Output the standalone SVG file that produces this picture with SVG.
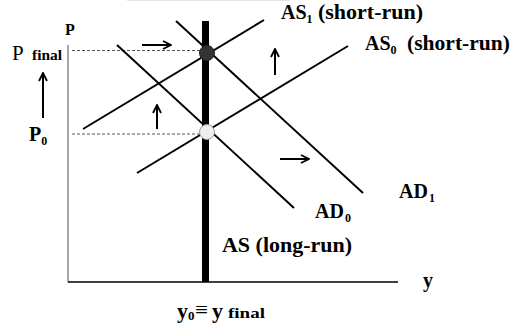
<svg xmlns="http://www.w3.org/2000/svg" width="520" height="328" viewBox="0 0 520 328">
<defs>
<marker id="ah" viewBox="0 0 10 10" refX="9" refY="5" markerWidth="5" markerHeight="5" orient="auto" markerUnits="strokeWidth">
<polyline points="1,1 9,5 1,9" fill="none" stroke="#000" stroke-width="1.8"/>
</marker>
</defs>
<style>
.t{font-family:"Liberation Serif","Times New Roman",serif;fill:#000}
.b{font-weight:bold}
.c{stroke:#000;stroke-width:2;fill:none}
.a{stroke:#000;stroke-width:2;fill:none;marker-end:url(#ah)}
.d{stroke:#555;stroke-width:1;stroke-dasharray:3,2}
</style>
<rect width="520" height="328" fill="#fff"/>
<line x1="127" y1="0.5" x2="290" y2="0.5" stroke="#e4e4e4" stroke-width="1"/>
<g id="axes">
<line x1="68" y1="45" x2="68" y2="282" stroke="#888" stroke-width="1.5"/>
<line x1="68" y1="282" x2="398" y2="282" stroke="#000" stroke-width="1.5"/>
</g>
<g id="guides">
<line class="d" x1="72" y1="50.5" x2="205" y2="50.5"/>
<line class="d" x1="72" y1="134" x2="205" y2="134"/>
</g>
<g id="curves">
<line id="as1" class="c" x1="83" y1="129" x2="264" y2="20"/>
<line id="as0" class="c" x1="137" y1="173" x2="348" y2="46"/>
<line id="ad0" class="c" x1="117" y1="45" x2="294" y2="208"/>
<line id="ad1" class="c" x1="176" y1="21" x2="363" y2="193"/>
<line id="aslr" x1="205.5" y1="21" x2="205.5" y2="282" stroke="#000" stroke-width="7"/>
</g>
<g id="connectors">
<line class="a" x1="142" y1="45" x2="171" y2="45"/>
<line class="a" x1="157" y1="129" x2="157" y2="105"/>
<line class="a" x1="275" y1="75" x2="275" y2="49"/>
<line class="a" x1="280" y1="159" x2="309" y2="159"/>
<line class="a" x1="43" y1="118" x2="43" y2="73"/>
</g>
<g id="eq-final"><circle cx="207" cy="53" r="7.5" fill="#333" stroke="#222" stroke-width="1"/></g>
<g id="eq-initial"><circle cx="207" cy="132" r="7.5" fill="#eee" stroke="#999" stroke-width="1"/></g>
<g id="labels">
<text class="t b" x="65" y="35" font-size="16">P</text>
<text class="t" x="12" y="60" font-size="21">P</text>
<text class="t b" x="32" y="60" font-size="14" textLength="30" lengthAdjust="spacingAndGlyphs">final</text>
<text class="t b" x="29" y="141" font-size="20">P<tspan font-size="12" dy="4">0</tspan></text>
<text class="t b" x="281" y="19" font-size="20">AS<tspan font-size="12" dy="4">1</tspan></text>
<text class="t b" x="318" y="19" font-size="20" textLength="105" lengthAdjust="spacingAndGlyphs">(short-run)</text>
<text class="t b" x="365" y="50" font-size="20">AS<tspan font-size="12" dy="4">0</tspan></text>
<text class="t b" x="407" y="50" font-size="20" textLength="103" lengthAdjust="spacingAndGlyphs">(short-run)</text>
<text class="t b" x="399" y="198" font-size="20">AD<tspan font-size="12" dy="4" dx="1">1</tspan></text>
<text class="t b" x="315" y="218" font-size="20">AD<tspan font-size="12" dy="4" dx="1">0</tspan></text>
<text class="t b" x="222" y="252" font-size="20" textLength="130" lengthAdjust="spacingAndGlyphs">AS (long-run)</text>
<text class="t b" x="423" y="287" font-size="20">y</text>
<text class="t b" x="177" y="318" font-size="22">y<tspan font-size="13" dy="2">0</tspan></text>
<text class="t" x="195" y="317" font-size="22" textLength="13" lengthAdjust="spacingAndGlyphs">≡</text>
<text class="t b" x="212" y="318" font-size="22">y</text>
<text class="t b" x="228" y="318" font-size="15" textLength="37" lengthAdjust="spacingAndGlyphs">final</text>
</g>
</svg>
